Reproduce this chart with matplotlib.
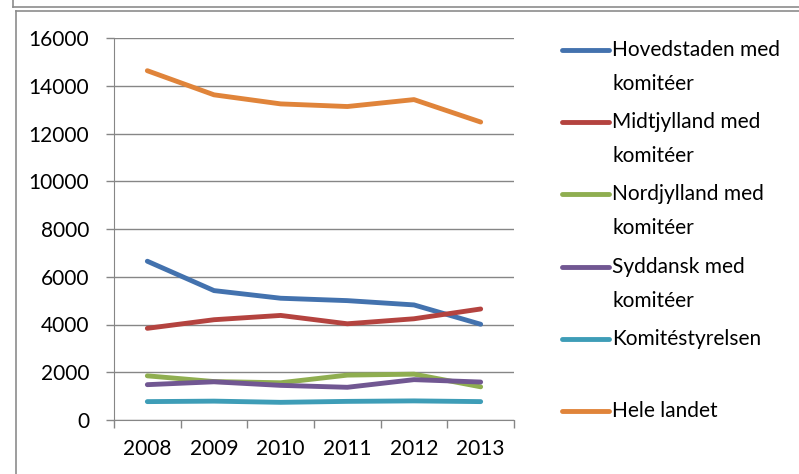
import matplotlib
matplotlib.use("Agg")
import matplotlib.pyplot as plt
from matplotlib.lines import Line2D
import numpy as np

plt.rcParams["font.family"] = ["Lato", "DejaVu Sans"]

YEARS = ["2008", "2009", "2010", "2011", "2012", "2013"]

LABELS = [
    "Hovedstaden med\nkomitéer",
    "Midtjylland med\nkomitéer",
    "Nordjylland med\nkomitéer",
    "Syddansk med\nkomitéer",
    "Komitéstyrelsen",
    "Hele landet",
]

HOVEDSTADEN = [6650, 5420, 5100, 5000, 4820, 4010]
MIDTJYLLAND = [3840, 4200, 4380, 4030, 4240, 4650]
NORDJYLLAND = [1850, 1610, 1560, 1880, 1920, 1390]
SYDDANSK = [1480, 1600, 1450, 1370, 1690, 1590]
KOMITESTYRELSEN = [770, 790, 740, 780, 800, 770]
HELE_LANDET = [14630, 13620, 13240, 13130, 13420, 12480]

SERIES = [HOVEDSTADEN, MIDTJYLLAND, NORDJYLLAND, SYDDANSK, KOMITESTYRELSEN, HELE_LANDET]
COLORS = ["#4372ae", "#b4433f", "#8fae50", "#715792", "#3e9db7", "#e0843a"]

Y_TICKS = [0, 2000, 4000, 6000, 8000, 10000, 12000, 14000, 16000]

W, H = 799, 474
fig = plt.figure(figsize=(W / 100, H / 100), dpi=100)


def fx(px):
    return px / W


def fy(py):
    return 1 - py / H


# outer frames (screenshot borders)
frame_col = "#8c8c8c"
fig.add_artist(Line2D([fx(13), 1], [fy(6.5), fy(6.5)], color=frame_col, lw=1.2))
fig.add_artist(Line2D([fx(13), fx(13)], [1, fy(6.5)], color=frame_col, lw=1.2))
fig.add_artist(Line2D([fx(15.5), 1], [fy(10.5), fy(10.5)], color=frame_col, lw=1.2))
fig.add_artist(Line2D([fx(15.5), fx(15.5)], [fy(10.5), 0], color=frame_col, lw=1.2))

ax = fig.add_axes([fx(114), fy(420), fx(514) - fx(114), fy(38) - fy(420)])

x = np.arange(len(YEARS))
for vals, col in zip(SERIES, COLORS):
    ax.plot(x, vals, color=col, lw=3.5, solid_capstyle="round", solid_joinstyle="round", zorder=3)

grid_col = "#868686"
ax.set_ylim(0, 16000)
ax.set_xlim(-0.5, len(YEARS) - 0.5)
ax.set_yticks(Y_TICKS)
ax.set_yticklabels([str(v) for v in Y_TICKS])
ax.set_xticks(x)
ax.set_xticklabels(YEARS)
ax.set_xticks(np.arange(-0.5, len(YEARS)), minor=True)
ax.tick_params(axis="x", which="major", length=0, pad=14, labelsize=15)
ax.tick_params(axis="x", which="minor", length=6, color=grid_col, width=1, direction="out")
ax.tick_params(axis="y", length=6, color=grid_col, width=1, pad=12, labelsize=15)
ax.yaxis.grid(True, color=grid_col, lw=1)
ax.set_axisbelow(True)
for s in ["top", "right"]:
    ax.spines[s].set_visible(False)
ax.spines["left"].set_color(grid_col)
ax.spines["bottom"].set_color(grid_col)

# legend
leg_y = [50, 122, 194, 267, 339, 411]
for lab, col, py in zip(LABELS, COLORS, leg_y):
    fig.add_artist(Line2D([fx(562), fx(609)], [fy(py), fy(py)], color=col, lw=3.5,
                          solid_capstyle="round"))
    fig.text(fx(612), fy(py - 10), lab, ha="left", va="top", fontsize=15, linespacing=1.85)

fig.savefig("out.png", dpi=100)
